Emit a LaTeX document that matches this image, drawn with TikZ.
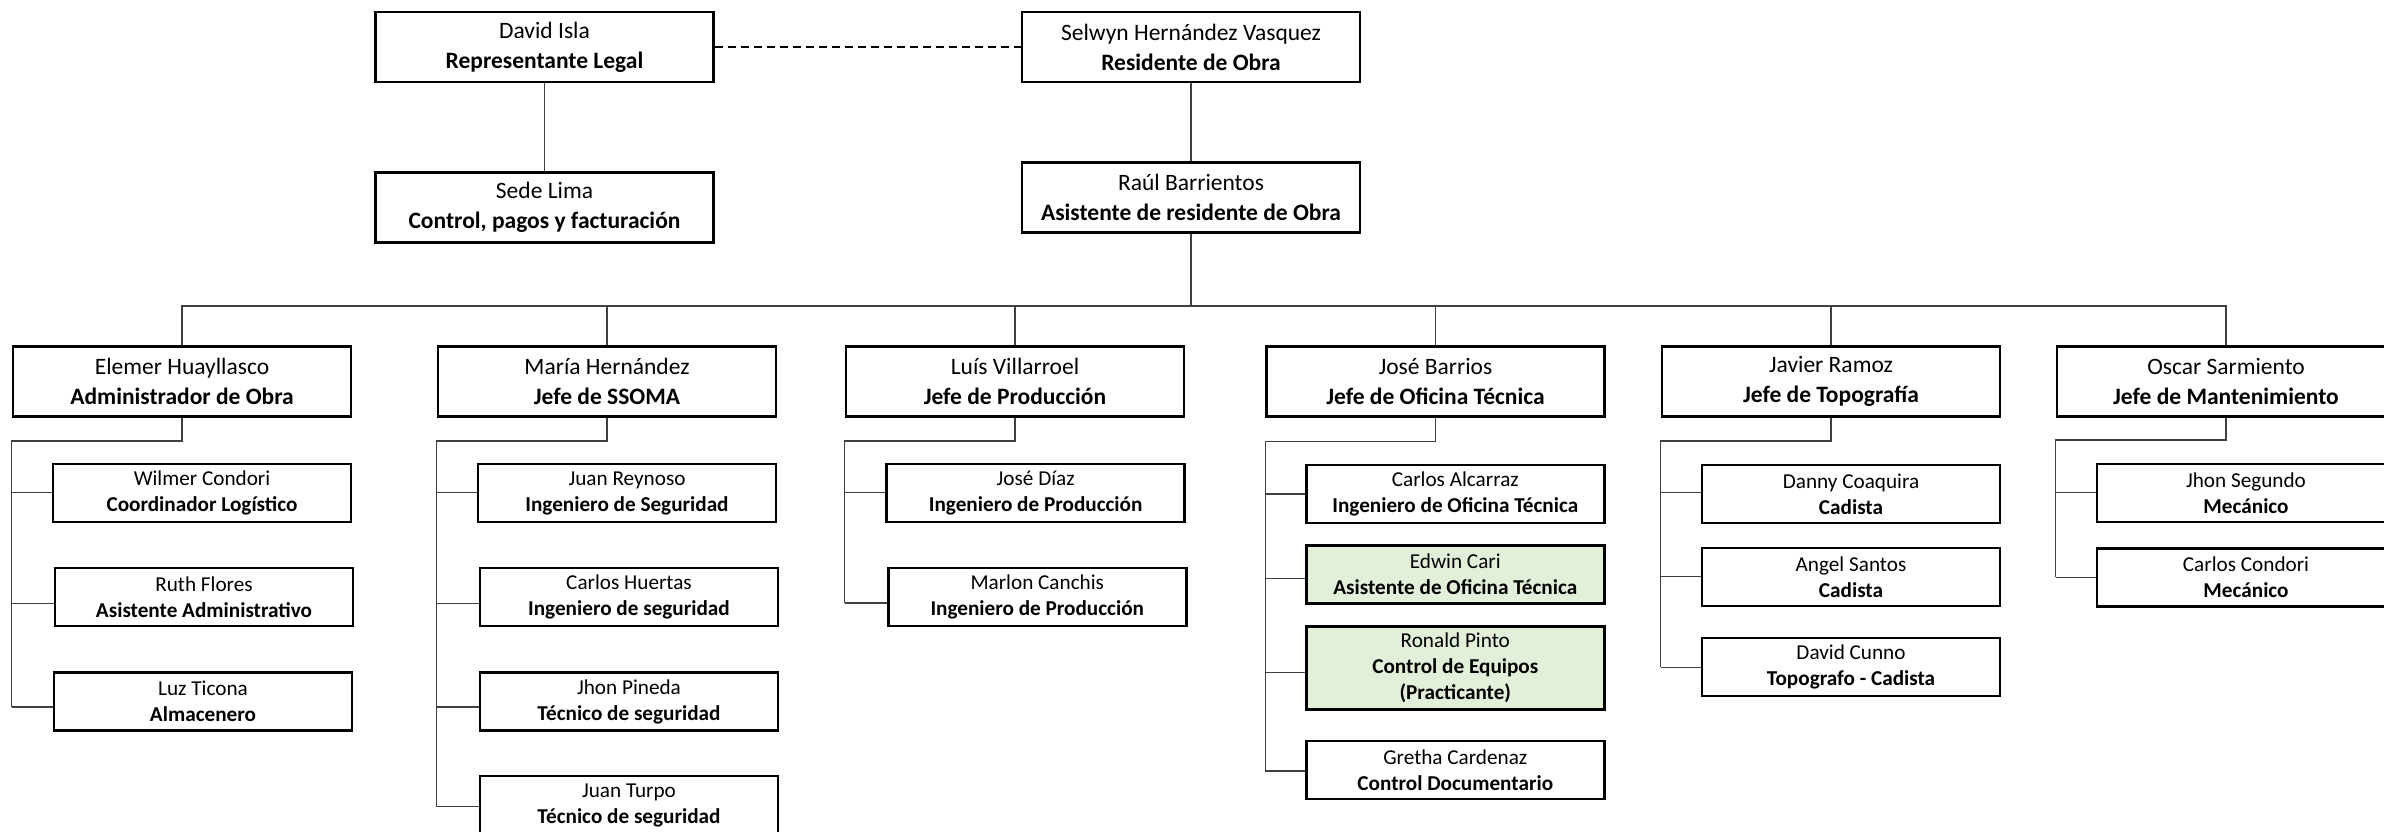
\documentclass[tikz,border=0pt]{standalone}
\usepackage{fontspec}
\setmainfont{Carlito}
\definecolor{lightgreen}{HTML}{E2EFD9}
\definecolor{connc}{HTML}{404040}
\tikzset{
  bigbox/.style={draw=black, line width=2.6pt, minimum width=338pt, minimum height=70pt, inner sep=0pt, align=center, font=\fontsize{23.5}{30}\selectfont},
  smallbox/.style={draw=black, line width=2.6pt, minimum width=298pt, minimum height=58pt, inner sep=0pt, align=center, font=\fontsize{21.2}{26}\selectfont},
  conn/.style={draw=connc, line width=1.3pt},
  greenbox/.style={fill=lightgreen}
}
\begin{document}
\begin{tikzpicture}[x=1pt,y=-1pt]
\useasboundingbox (0,0) rectangle (2384,832);
% top
\node[bigbox] (david) at (544.5,47) {David Isla\\\textbf{Representante Legal}};
\node[bigbox] (selwyn) at (1191,47) {Selwyn Hernández Vasquez\\\textbf{Residente de Obra}};
\node[bigbox] (sede) at (544.5,207.5) {Sede Lima\\\textbf{Control, pagos y facturación}};
\node[bigbox] (raul) at (1191,197.5) {Raúl Barrientos\\\textbf{Asistente de residente de Obra}};
% level 2
\node[bigbox] (elemer) at (182,381.5) {Elemer Huayllasco\\\textbf{Administrador de Obra}};
\node[bigbox] (maria) at (607,381.5) {María Hernández\\\textbf{Jefe de SSOMA}};
\node[bigbox] (luis) at (1015,381.5) {Luís Villarroel\\\textbf{Jefe de Producción}};
\node[bigbox] (jose) at (1435.5,381.5) {José Barrios\\\textbf{Jefe de Oficina Técnica}};
\node[bigbox] (javier) at (1831,381.5) {Javier Ramoz\\\textbf{Jefe de Topografía}};
\node[bigbox] (oscar) at (2226,381.5) {Oscar Sarmiento\\\textbf{Jefe de Mantenimiento}};
% elemer subs
\node[smallbox] (wilmer) at (202,493) {Wilmer Condori\\\textbf{Coordinador Logístico}};
\node[smallbox] (ruth) at (204,597) {Ruth Flores\\\textbf{Asistente Administrativo}};
\node[smallbox] (luz) at (203,701.6) {Luz Ticona\\\textbf{Almacenero}};
% maria subs
\node[smallbox] (reynoso) at (627,493) {Juan Reynoso\\\textbf{Ingeniero de Seguridad}};
\node[smallbox] (huertas) at (629,597) {Carlos Huertas\\\textbf{Ingeniero de seguridad}};
\node[smallbox] (pineda) at (629,701.6) {Jhon Pineda\\\textbf{Técnico de seguridad}};
\node[smallbox] (turpo) at (629,805) {Juan Turpo\\\textbf{Técnico de seguridad}};
% luis subs
\node[smallbox] (diaz) at (1035.7,493) {José Díaz\\\textbf{Ingeniero de Producción}};
\node[smallbox] (marlon) at (1037.3,597) {Marlon Canchis\\\textbf{Ingeniero de Producción}};
% jose subs
\node[smallbox] (alcarraz) at (1455.3,494) {Carlos Alcarraz\\\textbf{Ingeniero de Oficina Técnica}};
\node[smallbox, greenbox] (edwin) at (1455.3,574.7) {Edwin Cari\\\textbf{Asistente de Oficina Técnica}};
\node[smallbox, greenbox, minimum height=83pt] (ronald) at (1455.3,668) {Ronald Pinto\\\textbf{Control de Equipos}\\\textbf{(Practicante)}};
\node[smallbox] (gretha) at (1455.3,770) {Gretha Cardenaz\\\textbf{Control Documentario}};
% javier subs
\node[smallbox] (danny) at (1851,494) {Danny Coaquira\\\textbf{Cadista}};
\node[smallbox] (angel) at (1851,577) {Angel Santos\\\textbf{Cadista}};
\node[smallbox] (cunno) at (1851,667) {David Cunno\\\textbf{Topografo - Cadista}};
% oscar subs
\node[smallbox] (segundo) at (2246,493) {Jhon Segundo\\\textbf{Mecánico}};
\node[smallbox] (ccondori) at (2246,577.5) {Carlos Condori\\\textbf{Mecánico}};
% top connectors
\draw[black, line width=2.5pt, dash pattern=on 8pt off 5pt] (david.east) -- (selwyn.west);
\draw[conn] (david.south) -- (sede.north);
\draw[conn] (selwyn.south) -- (raul.south |- raul.north);
% bus
\coordinate (bus) at (0,306);
\draw[conn] (raul.south) -- (raul.south |- bus);
\draw[conn] (elemer.north) -- (elemer.north |- bus) -- (oscar.north |- bus) -- (oscar.north);
\foreach \n in {maria,luis,jose,javier}{
  \draw[conn] (\n.north |- bus) -- (\n.north);
}
% elemer tree
\draw[conn] (elemer.south) -- (elemer.south |- 0,441) -| (elemer.west |- 0,707);
\draw[conn] (elemer.west |- 0,492.4) -- (wilmer.west |- 0,492.4);
\draw[conn] (elemer.west |- 0,603.7) -- (ruth.west |- 0,603.7);
\draw[conn] (elemer.west |- 0,707) -- (luz.west |- 0,707);
% maria tree
\draw[conn] (maria.south) -- (maria.south |- 0,441) -| (maria.west |- 0,806.5);
\draw[conn] (maria.west |- 0,492.4) -- (reynoso.west |- 0,492.4);
\draw[conn] (maria.west |- 0,603.7) -- (huertas.west |- 0,603.7);
\draw[conn] (maria.west |- 0,707) -- (pineda.west |- 0,707);
\draw[conn] (maria.west |- 0,806.5) -- (turpo.west |- 0,806.5);
% luis tree
\draw[conn] (luis.south) -- (luis.south |- 0,441) -| (luis.west |- 0,603);
\draw[conn] (luis.west |- 0,492.4) -- (diaz.west |- 0,492.4);
\draw[conn] (luis.west |- 0,603) -- (marlon.west |- 0,603);
% jose tree
\draw[conn] (jose.south) -- (jose.south |- 0,441.8) -| (jose.west |- 0,771);
\draw[conn] (jose.west |- 0,494) -- (alcarraz.west |- 0,494);
\draw[conn] (jose.west |- 0,578.2) -- (edwin.west |- 0,578.2);
\draw[conn] (jose.west |- 0,672.2) -- (ronald.west |- 0,672.2);
\draw[conn] (jose.west |- 0,771) -- (gretha.west |- 0,771);
% javier tree
\draw[conn] (javier.south) -- (javier.south |- 0,441) -| (javier.west |- 0,667.2);
\draw[conn] (javier.west |- 0,492.4) -- (danny.west |- 0,492.4);
\draw[conn] (javier.west |- 0,576.6) -- (angel.west |- 0,576.6);
\draw[conn] (javier.west |- 0,667.2) -- (cunno.west |- 0,667.2);
% oscar tree
\draw[conn] (oscar.south) -- (oscar.south |- 0,440) -| (oscar.west |- 0,577.3);
\draw[conn] (oscar.west |- 0,492.3) -- (segundo.west |- 0,492.3);
\draw[conn] (oscar.west |- 0,577.3) -- (ccondori.west |- 0,577.3);
\end{tikzpicture}
\end{document}
